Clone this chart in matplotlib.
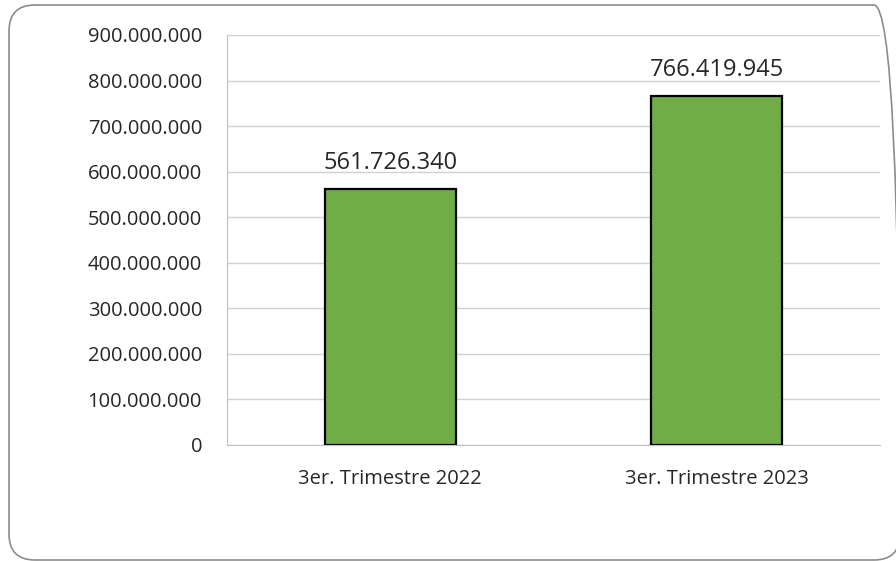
import matplotlib.pyplot as plt
from matplotlib.patches import FancyBboxPatch
from matplotlib.ticker import FuncFormatter

categories = ["3er. Trimestre 2022", "3er. Trimestre 2023"]
values = [561726340, 766419945]
yticks = [0, 100000000, 200000000, 300000000, 400000000, 500000000,
          600000000, 700000000, 800000000, 900000000]

plt.rcParams['font.family'] = ['Open Sans', 'DejaVu Sans']

def fmt(v, pos=None):
    return "{:,.0f}".format(v).replace(",", ".")

fig = plt.figure(figsize=(8.96, 5.61), dpi=100)

# rounded outer frame (like the spreadsheet chart area), in inches
frame = FancyBboxPatch((0.09, 0.01), 8.91, 5.55,
                       boxstyle="round,pad=0,rounding_size=0.26",
                       transform=fig.dpi_scale_trans, facecolor="none",
                       edgecolor="#8c8c8c", linewidth=1.2, zorder=-1)
fig.patches.append(frame)

W, H = 896.0, 561.0
ax = fig.add_axes([227 / W, 1 - 445 / H, 653 / W, 410 / H])
ax.set_facecolor("none")

x = range(len(categories))
bars = ax.bar(x, values, width=0.4, color="#70AD47", edgecolor="black",
              linewidth=1.6, zorder=3)

ax.set_xlim(-0.5, 1.5)
ax.set_ylim(0, 900000000)
ax.set_yticks(yticks)
ax.yaxis.set_major_formatter(FuncFormatter(fmt))
ax.set_xticks(list(x))
ax.set_xticklabels(categories)

ax.grid(axis="y", color="#d0d0d0", linewidth=1.0, zorder=0)
ax.set_axisbelow(True)
for s in ["top", "right"]:
    ax.spines[s].set_visible(False)
ax.spines["left"].set_color("#bfbfbf")
ax.spines["bottom"].set_color("#bfbfbf")
ax.tick_params(axis="both", length=0, labelsize=14.5, colors="#262626")
ax.tick_params(axis="y", pad=18)
ax.tick_params(axis="x", pad=17)

for b, v in zip(bars, values):
    ax.annotate(fmt(v), (b.get_x() + b.get_width() / 2, v),
                xytext=(0, 10), textcoords="offset points",
                ha="center", va="bottom", fontsize=17, color="#262626")

fig.savefig("out.png", dpi=100)
